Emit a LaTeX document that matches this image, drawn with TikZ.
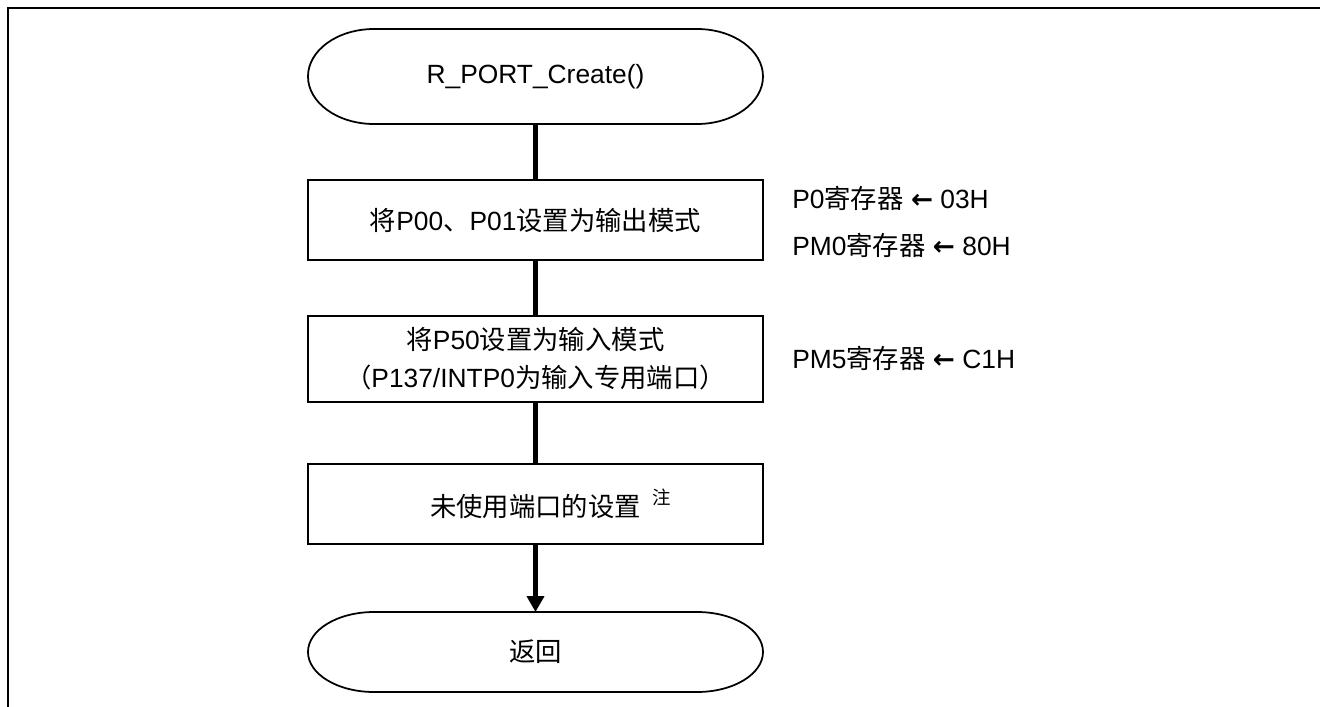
\documentclass[tikz,border=0pt]{standalone}
\usepackage{fontspec}
\setmainfont{Liberation Sans}
\newfontfamily\cjk{Noto Sans CJK SC}
\newfontfamily\arrowfont{DejaVu Sans}
\usetikzlibrary{arrows.meta,calc}
\def\termshape(#1)(#2){\draw[termline] ($(#1.north west)+(1.32,0)$) -- ($(#1.north east)+(-1.32,0)$) arc[start angle=90, end angle=-90, x radius=1.32, y radius=#2] -- ($(#1.south west)+(1.32,0)$) arc[start angle=270, end angle=90, x radius=1.32, y radius=#2] -- cycle;}
\def\setto{{\arrowfont\bfseries ←}}
\tikzset{
	frameline/.style={line width=1.3pt},
	termline/.style={line width=1pt},
	termbox/.style={outer sep=0pt, minimum width=9.1cm, font=\fontsize{15}{21.6}\selectfont},
	stepbox/.style={draw, line width=0.9pt, minimum width=9.1cm, minimum height=1.6cm, align=center, font=\fontsize{15}{21.6}\selectfont},
	flow/.style={line width=2.3pt},
	reglabel/.style={anchor=west, inner sep=0pt, font=\fontsize{15}{18}\selectfont}
}

\begin{document}
\begin{tikzpicture}
			%%%%% START %%%%%
			\useasboundingbox (0,0) rectangle (26.4,-14.14);
			
			\draw[frameline] (0.16,-14.4) -- (0.16,-0.16) -- (26.6,-0.16);
			
			\node[termbox, minimum height=1.9cm] (start) at (10.71,-1.53) {R\_PORT\_Create()};
			\termshape(start)(0.95)
			
			\node[stepbox] (setout) at (10.71,-4.4) {{\cjk 将}P00{\cjk 、}P01{\cjk 设置为输出模式}};
			\node[stepbox, minimum height=1.72cm] (setin) at (10.71,-7.18) {{\cjk 将}P50{\cjk 设置为输入模式}\\{\cjk （}P137/INTP0{\cjk 为输入专用端口）}};
			\node[stepbox] (unused) at (10.71,-10.08) {{\cjk 未使用端口的设置}\rlap{\hspace{0.45em}\raisebox{7pt}{\fontsize{10.5}{10.5}\selectfont\cjk 注}}};
			
			\node[termbox, minimum height=1.6cm] (ret) at (10.71,-13.04) {{\cjk 返回}};
			\termshape(ret)(0.8)
			
			\draw[flow] (start) -- (setout);
			\draw[flow] (setout) -- (setin);
			\draw[flow] (setin) -- (unused);
			\draw[flow, -{Triangle[width=0.34cm, length=0.32cm]}] (unused) -- (ret);
			
			\node[reglabel] (p0reg) at (15.84,-3.96) {P0{\cjk 寄存器} \setto{} 03H};
			\node[reglabel] (pm0reg) at (15.84,-4.9) {PM0{\cjk 寄存器} \setto{} 80H};
			\node[reglabel] (pm5reg) at (15.84,-7.16) {PM5{\cjk 寄存器} \setto{} C1H};
			
			%%%%% END %%%%%
\end{tikzpicture}
\end{document}
